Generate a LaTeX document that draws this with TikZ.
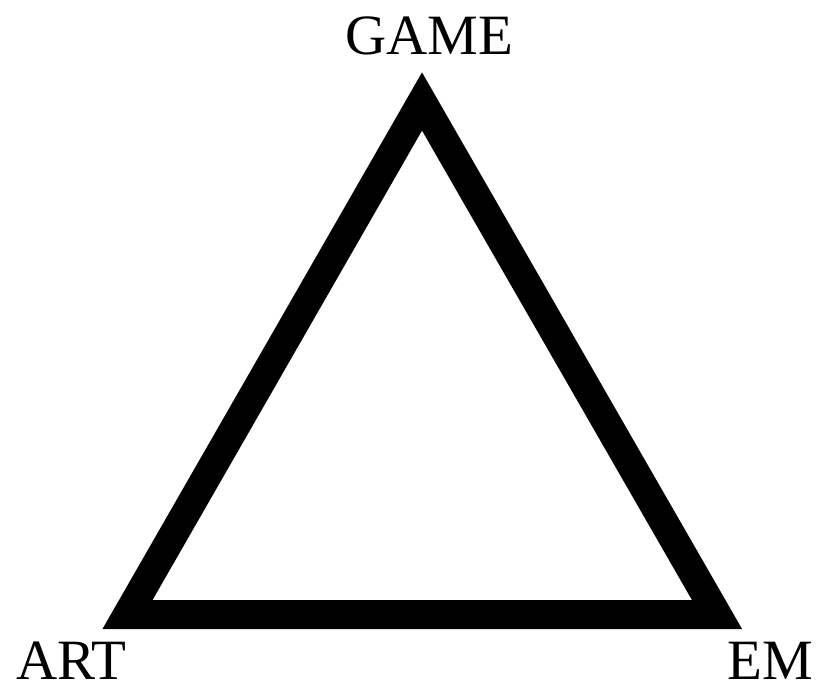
\documentclass[tikz,border=0pt]{standalone}
\usepackage{fontspec}
\setmainfont{Liberation Serif}
\usetikzlibrary{positioning}

\begin{document}
\begin{tikzpicture}[
          x=1pt, y=-1pt,
          edge/.style={draw, line width=29pt, line join=miter},
          label/.style={inner sep=0pt, font=\fontsize{57}{60}\selectfont}
        ]
        \useasboundingbox (0,0) rectangle (818,687);

        % corners of the triangle
        \coordinate (top)   at (422,101.5);
        \coordinate (left)  at (127.5,614.5);
        \coordinate (right) at (717,614.5);

        \draw[edge] (top) -- (left) -- (right) -- cycle;

        % corner labels
        \node[label, anchor=base]      (game) at (429,55)  {GAME};
        \node[label, anchor=base west] (art)  at (16,679)  {ART};
        \node[label, anchor=base east] (em)   at (813,679) {EM};
      \end{tikzpicture}
\end{document}
